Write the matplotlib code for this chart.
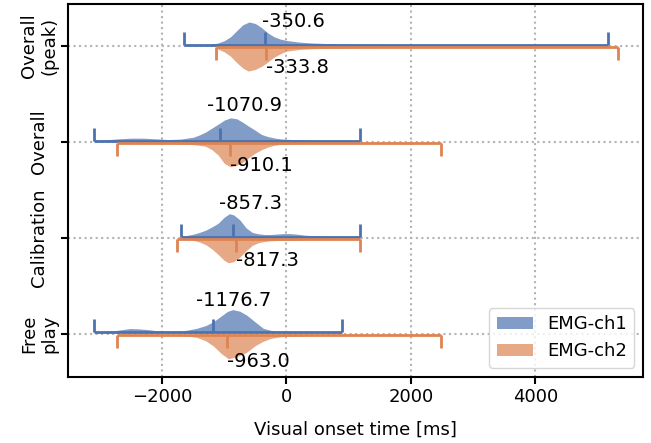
import matplotlib
matplotlib.use("Agg")
import matplotlib.pyplot as plt
from matplotlib.patches import Patch

categories = ["Overall\n(peak)", "Overall", "Calibration", "Free\nplay"]
series = ["EMG-ch1", "EMG-ch2"]

median_ch1 = [-350.6, -1070.9, -857.3, -1176.7]
median_ch2 = [-333.8, -910.1, -817.3, -963.0]
min_ch1 = [-1648, -3095, -1689, -3090]
max_ch1 = [5174, 1184, 1184, 896]
min_ch2 = [-1133, -2720, -1753, -2720]
max_ch2 = [5335, 2480, 1184, 2480]

# density outlines (relative height)
peak_ch1_x = [-1648, -1400, -1200, -1100, -1000, -900, -800, -700, -600, -500, -400, -300, -200, -100, 0, 200, 400, 700, 1000, 1500, 2000, 3000, 4000, 5174]
peak_ch1_h = [0, 0.005, 0.03, 0.08, 0.18, 0.35, 0.62, 0.88, 1.0, 0.93, 0.75, 0.52, 0.35, 0.25, 0.19, 0.12, 0.08, 0.05, 0.035, 0.02, 0.012, 0.006, 0.003, 0.002]
peak_ch2_x = [-1133, -1000, -900, -800, -700, -614, -500, -400, -330, -200, -100, 0, 200, 400, 700, 1000, 1500, 2000, 3000, 4000, 5335]
peak_ch2_h = [0.05, 0.2, 0.38, 0.65, 0.88, 1.0, 0.93, 0.8, 0.68, 0.42, 0.28, 0.17, 0.1, 0.07, 0.05, 0.035, 0.02, 0.012, 0.006, 0.003, 0.002]

overall_ch1_x = [-3095, -2900, -2700, -2500, -2300, -2100, -1900, -1700, -1500, -1400, -1300, -1200, -1100, -1000, -900, -800, -700, -600, -500, -400, -300, -200, -100, 0, 300, 600, 1184]
overall_ch1_h = [0.01, 0.04, 0.08, 0.11, 0.11, 0.08, 0.05, 0.07, 0.15, 0.25, 0.38, 0.55, 0.72, 0.9, 1.0, 0.96, 0.8, 0.62, 0.45, 0.27, 0.18, 0.12, 0.08, 0.06, 0.03, 0.02, 0.01]
overall_ch2_x = [-2720, -2400, -2000, -1700, -1500, -1400, -1300, -1200, -1100, -1000, -900, -800, -700, -600, -500, -400, -300, -200, -100, 0, 400, 1000, 1800, 2480]
overall_ch2_h = [0.01, 0.02, 0.02, 0.04, 0.07, 0.1, 0.14, 0.28, 0.5, 0.85, 1.0, 0.93, 0.8, 0.6, 0.42, 0.28, 0.17, 0.1, 0.06, 0.04, 0.02, 0.01, 0.005, 0.002]

calib_ch1_x = [-1689, -1600, -1500, -1400, -1300, -1200, -1100, -1000, -918, -850, -750, -650, -550, -450, -350, -250, -150, -50, 50, 150, 300, 500, 800, 1184]
calib_ch1_h = [0.01, 0.05, 0.1, 0.18, 0.28, 0.42, 0.58, 0.85, 1.0, 0.95, 0.73, 0.38, 0.18, 0.12, 0.09, 0.09, 0.11, 0.13, 0.13, 0.11, 0.06, 0.03, 0.02, 0.01]
calib_ch2_x = [-1753, -1600, -1500, -1400, -1300, -1200, -1100, -1000, -934, -850, -750, -650, -550, -450, -350, -250, -100, 100, 300, 600, 900, 1184]
calib_ch2_h = [0.01, 0.03, 0.06, 0.13, 0.24, 0.42, 0.65, 0.9, 1.0, 0.95, 0.76, 0.5, 0.27, 0.16, 0.11, 0.08, 0.06, 0.05, 0.04, 0.03, 0.02, 0.01]

free_ch1_x = [-3090, -2900, -2785, -2650, -2516, -2400, -2247, -2100, -2000, -1850, -1712, -1600, -1444, -1300, -1176, -1050, -950, -865, -750, -640, -500, -372, -250, -100, 0, 300, 600, 896]
free_ch1_h = [0.02, 0.05, 0.07, 0.12, 0.17, 0.16, 0.13, 0.08, 0.06, 0.05, 0.06, 0.1, 0.18, 0.3, 0.47, 0.72, 0.92, 1.0, 0.93, 0.76, 0.45, 0.18, 0.09, 0.05, 0.04, 0.02, 0.015, 0.01]
free_ch2_x = [-2720, -2400, -2000, -1712, -1550, -1444, -1300, -1176, -1050, -935, -800, -640, -500, -372, -250, -100, 0, 300, 800, 1500, 2480]
free_ch2_h = [0.01, 0.015, 0.02, 0.04, 0.07, 0.11, 0.25, 0.47, 0.78, 1.0, 0.92, 0.73, 0.45, 0.27, 0.15, 0.09, 0.07, 0.04, 0.02, 0.01, 0.005]

ch1_profiles = [(peak_ch1_x, peak_ch1_h), (overall_ch1_x, overall_ch1_h), (calib_ch1_x, calib_ch1_h), (free_ch1_x, free_ch1_h)]
ch2_profiles = [(peak_ch2_x, peak_ch2_h), (overall_ch2_x, overall_ch2_h), (calib_ch2_x, calib_ch2_h), (free_ch2_x, free_ch2_h)]

blue = "#4c72b0"
orange = "#dd8452"

fig = plt.figure(figsize=(6.51, 4.43), dpi=100)
ax = fig.add_axes([0.105, 0.150, 0.883, 0.841])

off = 0.012      # small gap between the two halves
cap = 0.135      # whisker / median tick length
w1, w2 = 0.238, 0.25

for i in range(len(categories)):
    x1, h1 = ch1_profiles[i]
    x2, h2 = ch2_profiles[i]
    ax.fill_between(x1, [i - off - w1 * v for v in h1], i - off,
                    color=blue, alpha=0.7, lw=0, zorder=2)
    ax.fill_between(x2, i + off, [i + off + w2 * v for v in h2],
                    color=orange, alpha=0.7, lw=0, zorder=2)

for i in range(len(categories)):
    y1, y2 = i - off, i + off
    ax.hlines(y1, min_ch1[i], max_ch1[i], color=blue, lw=2, zorder=3)
    ax.vlines([min_ch1[i], median_ch1[i], max_ch1[i]], y1 - cap, y1, color=blue, lw=2, zorder=3)
    ax.hlines(y2, min_ch2[i], max_ch2[i], color=orange, lw=2, zorder=3)
    ax.vlines([min_ch2[i], median_ch2[i], max_ch2[i]], y2, y2 + cap, color=orange, lw=2, zorder=3)

# median labels
lab1_dx = [-40, -200, -235, -280]
lab1_dy = [-0.26, -0.38, -0.355, -0.34]
lab2_dy = [0.227, 0.243, 0.24, 0.29]
for i in range(len(categories)):
    ax.text(median_ch1[i] + lab1_dx[i], i + lab1_dy[i], f"{median_ch1[i]:.1f}",
            fontsize=14, ha="left", va="center", zorder=4)
    ax.text(median_ch2[i], i + lab2_dy[i], f"{median_ch2[i]:.1f}",
            fontsize=14, ha="left", va="center", zorder=4)

ax.set_xlim(-3508, 5736)
ax.set_ylim(3.448, -0.4375)
ax.set_yticks(range(len(categories)))
ax.set_yticklabels(categories, rotation=90, va="center", ha="center", fontsize=13, multialignment="center")
ax.tick_params(axis="y", pad=16)
ax.set_xticks([-2000, 0, 2000, 4000])
ax.tick_params(axis="x", labelsize=13)
ax.tick_params(width=1.5, length=5)
ax.set_xlabel("Visual onset time [ms]", fontsize=13, labelpad=10)

ax.grid(True, ls=":", color="0.7", lw=1.5)
ax.set_axisbelow(True)
for s in ax.spines.values():
    s.set_linewidth(1.5)

handles = [Patch(facecolor=blue, alpha=0.7, edgecolor="none"),
           Patch(facecolor=orange, alpha=0.7, edgecolor="none")]
ax.legend(handles, series, loc="lower right", fontsize=13)

plt.savefig("out.png", dpi=100)
